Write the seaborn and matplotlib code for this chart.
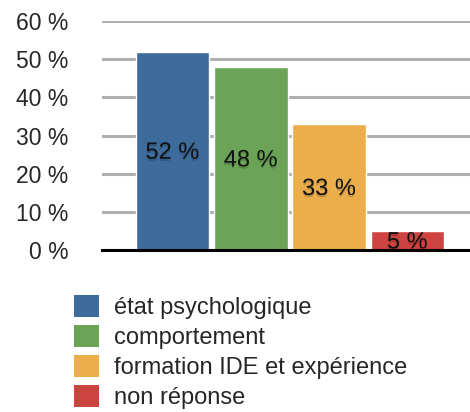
import matplotlib
matplotlib.use("Agg")
import matplotlib.pyplot as plt
import matplotlib.patheffects as pe
from matplotlib.patches import Patch
import seaborn as sns
import pandas as pd

categories = ["état psychologique", "comportement", "formation IDE et expérience", "non réponse"]
values = [52, 48, 33, 5]
bar_labels = ["52 %", "48 %", "33 %", "5 %"]
colors = ["#3d6b9c", "#6ba457", "#ebae4b", "#cc4340"]
yticks = [0, 10, 20, 30, 40, 50, 60]

sns.set_theme(style="white")
plt.rcParams["font.family"] = ["Liberation Sans", "DejaVu Sans"]

df = pd.DataFrame({"cat": categories, "val": values})

fig = plt.figure(figsize=(4.7, 4.12), dpi=100)
ax = fig.add_axes([0.217, 0.393, 0.783, 0.556])

sns.barplot(data=df, x="cat", y="val", hue="cat", palette=colors,
            dodge=False, width=0.94, legend=False, ax=ax, saturation=1, zorder=3)

for bar, lab in zip(ax.patches, bar_labels):
    h = bar.get_height()
    ax.text(bar.get_x() + bar.get_width() / 2, h / 2 - 0.5, lab, ha="center", va="center",
            fontsize=17, color="#111111", zorder=4,
            path_effects=[pe.withSimplePatchShadow(offset=(0, -1.5), shadow_rgbFace="#000000", alpha=0.18)])

ax.set_ylim(0, 60)
ax.set_xlim(-0.9, 3.8)
ax.set_yticks(yticks)
ax.set_yticklabels([f"{t} %" for t in yticks], fontsize=16.5)
ax.yaxis.grid(True, color="#b0b0b0", linewidth=2.2, zorder=0)
ax.set_xticks([])
ax.set_xlabel("")
ax.set_ylabel("")
ax.tick_params(axis="y", length=0, pad=24)
for s in ["top", "right", "left"]:
    ax.spines[s].set_visible(False)
ax.spines["bottom"].set_color("black")
ax.spines["bottom"].set_linewidth(2.2)
ax.spines["bottom"].set_zorder(5)

handles = [Patch(facecolor=c, edgecolor="none") for c in colors]
fig.legend(handles, categories, loc="upper left", bbox_to_anchor=(0.158, 0.285),
           frameon=False, fontsize=17, handlelength=1.06, handleheight=1.06,
           labelspacing=0.25, handletextpad=0.63, borderpad=0, borderaxespad=0)

fig.savefig("out.png", dpi=100)
